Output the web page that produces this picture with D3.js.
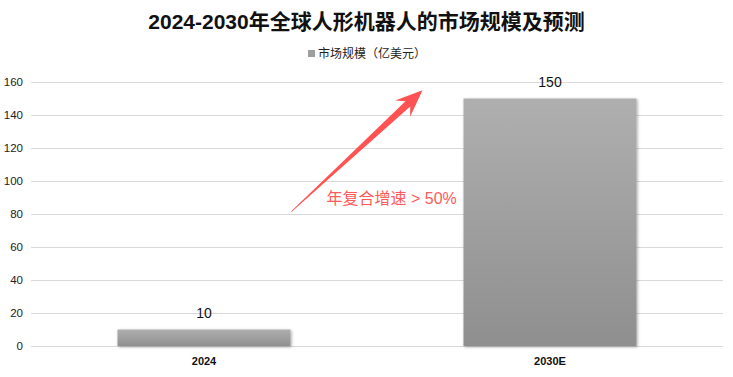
<!DOCTYPE html>
<html>
<head>
<meta charset="utf-8">
<script src="https://cdn.jsdelivr.net/npm/d3@7"></script>
<style>
  body { margin: 0; background: #fff; }
  svg { display: block; font-family: "Liberation Sans", "Noto Sans CJK SC", sans-serif; }
</style>
</head>
<body>
<svg id="chart" width="733" height="377"></svg>
<script>
var categories = ['2024', '2030E'];
var values = [10, 150];
var yTicks = [0, 20, 40, 60, 80, 100, 120, 140, 160];
var seriesName = '市场规模（亿美元）';
var title = '2024-2030年全球人形机器人的市场规模及预测';
var note = '年复合增速 > 50%';

var dims = { width: 733, height: 377, margin: { top: 82, bottom: 31, left: 31, right: 10 } };

var svg = d3.select('#chart');

var xScale = d3.scaleBand()
    .domain(categories)
    .range([dims.margin.left, dims.width - dims.margin.right])
    .paddingInner(0.5)
    .paddingOuter(0.25);
var yScale = d3.scaleLinear()
    .domain([0, 160])
    .range([dims.height - dims.margin.bottom, dims.margin.top]);

var defs = svg.append('defs');
var grad = defs.append('linearGradient').attr('id', 'barGrad')
    .attr('x1', 0).attr('y1', 0).attr('x2', 0).attr('y2', 1);
grad.append('stop').attr('offset', '0%').attr('stop-color', '#afafaf');
grad.append('stop').attr('offset', '100%').attr('stop-color', '#8f8f8f');
var shadow = defs.append('filter').attr('id', 'shadow')
    .attr('x', '-10%').attr('y', '-10%').attr('width', '120%').attr('height', '130%');
shadow.append('feDropShadow').attr('dx', 1).attr('dy', 1).attr('stdDeviation', 1.5)
    .attr('flood-color', '#000').attr('flood-opacity', 0.35);

// gridlines
svg.append('g').selectAll('line')
    .data(yTicks)
    .enter().append('line')
    .attr('x1', dims.margin.left).attr('x2', dims.width - dims.margin.right)
    .attr('y1', d => Math.round(yScale(d)) + 0.5).attr('y2', d => Math.round(yScale(d)) + 0.5)
    .attr('stroke', '#d9d9d9').attr('stroke-width', 1);

// y axis labels
var yAxis = svg.append('g')
    .attr('transform', `translate(${dims.margin.left - 6},0)`)
    .call(d3.axisLeft(yScale).tickValues(yTicks).tickSize(0).tickPadding(2));
yAxis.select('.domain').remove();
yAxis.selectAll('text').attr('font-size', 11.5).attr('fill', '#222');

// x axis labels
var xAxis = svg.append('g')
    .attr('transform', `translate(0,${yScale(0)})`)
    .call(d3.axisBottom(xScale).tickSize(0).tickPadding(11));
xAxis.select('.domain').remove();
xAxis.selectAll('text').attr('font-size', 11).attr('font-weight', 'bold').attr('fill', '#111');

// bars
svg.selectAll('.bar')
    .data(values)
    .enter().append('rect')
    .attr('class', 'bar')
    .attr('x', (d, i) => xScale(categories[i]))
    .attr('y', d => yScale(d))
    .attr('width', xScale.bandwidth())
    .attr('height', d => yScale(0) - yScale(d))
    .attr('fill', 'url(#barGrad)')
    .attr('filter', 'url(#shadow)');

// value labels
svg.selectAll('.val')
    .data(values)
    .enter().append('text')
    .attr('class', 'val')
    .attr('x', (d, i) => xScale(categories[i]) + xScale.bandwidth() / 2)
    .attr('y', d => yScale(d) - 12)
    .attr('text-anchor', 'middle')
    .attr('font-size', 14)
    .attr('fill', '#111')
    .text(d => d);

// title
svg.append('text')
    .attr('x', dims.width / 2).attr('y', 29)
    .attr('text-anchor', 'middle')
    .attr('font-size', 21).attr('font-weight', 'bold')
    .attr('fill', '#111')
    .text(title);

// legend
var legend = svg.append('g').attr('transform', 'translate(308,48)');
legend.append('rect').attr('width', 7).attr('height', 7).attr('y', 2).attr('fill', '#9e9e9e');
legend.append('text').attr('x', 10).attr('y', 9.5)
    .attr('font-size', 12).attr('fill', '#222').text(seriesName);

// growth arrow annotation (from just right of first bar up toward second bar)
var tail = [xScale(categories[0]) + xScale.bandwidth() + 1, yScale(81.5)];
var tip = [xScale(categories[1]) - 41, yScale(155)];
var dx = tip[0] - tail[0], dy = tip[1] - tail[1];
var len = Math.sqrt(dx * dx + dy * dy);
var ux = dx / len, uy = dy / len, nx = -uy, ny = ux;
var headLen = 27, headHalf = 11, shaftEnd = 3.5, shaftStart = 0.4;
var base = [tip[0] - ux * headLen, tip[1] - uy * headLen];
var notch = [tip[0] - ux * (headLen - 7), tip[1] - uy * (headLen - 7)];
var pts = [
  [tail[0] + nx * shaftStart, tail[1] + ny * shaftStart],
  [notch[0] + nx * shaftEnd, notch[1] + ny * shaftEnd],
  [base[0] + nx * headHalf, base[1] + ny * headHalf],
  tip,
  [base[0] - nx * headHalf, base[1] - ny * headHalf],
  [notch[0] - nx * shaftEnd, notch[1] - ny * shaftEnd],
  [tail[0] - nx * shaftStart, tail[1] - ny * shaftStart]
];
svg.append('path')
    .attr('d', d3.line()(pts) + 'Z')
    .attr('fill', '#ff5252');

svg.append('text')
    .attr('x', tail[0] + 35).attr('y', yScale(81.5) - 8)
    .attr('font-size', 16).attr('fill', '#ff5a5a')
    .text(note);
</script>
</body>
</html>
